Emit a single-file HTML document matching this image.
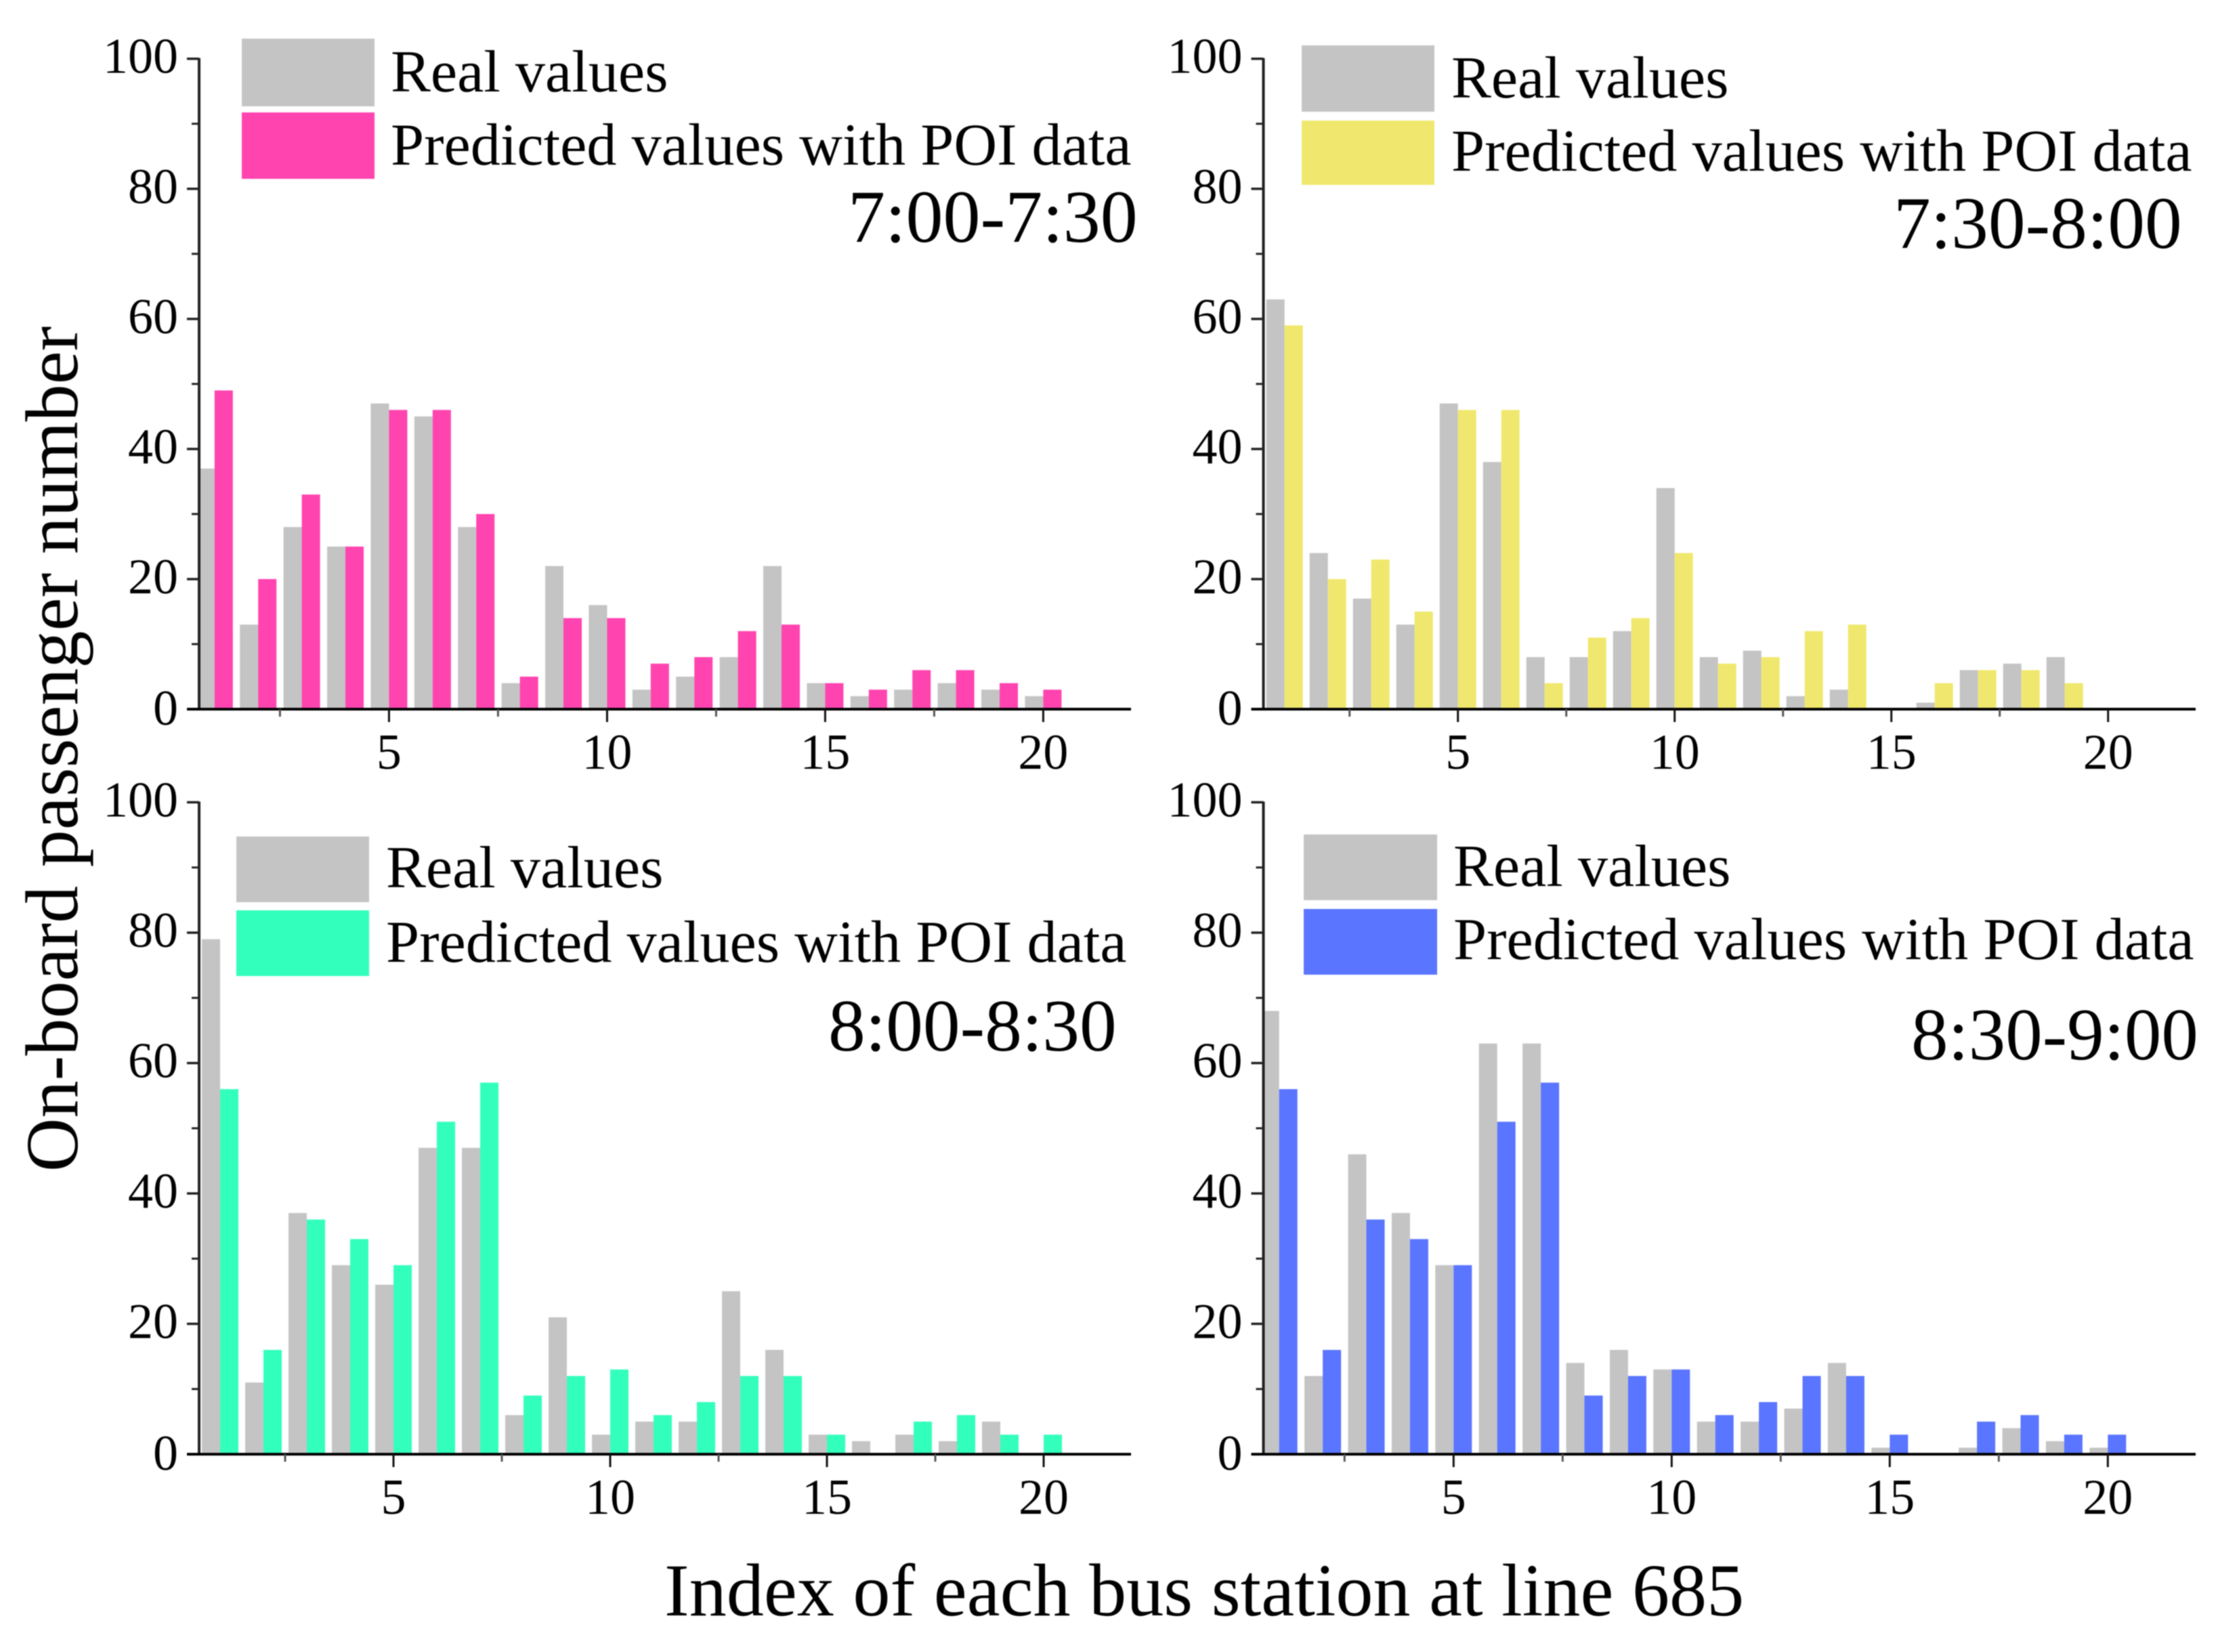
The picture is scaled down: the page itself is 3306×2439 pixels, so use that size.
<!DOCTYPE html>
<html lang="en">
<head>
<meta charset="utf-8">
<title>On-board passenger number by bus station</title>
<style>
  html, body { margin: 0; padding: 0; background: #ffffff; }
  svg { display: block; filter: blur(0.7px); }
  text { font-family: "Liberation Serif", "Times New Roman", serif; fill: #000000; }
</style>
</head>
<body>
<svg id="chart" xmlns="http://www.w3.org/2000/svg" width="3306" height="2439" viewBox="0 0 3306 2439">
  <rect x="0" y="0" width="3306" height="2439" fill="#ffffff"/>
  <g id="panels"></g>

  <g>
    <rect x="357" y="57" width="196" height="100" fill="#c4c4c4"/>
    <rect x="357" y="166" width="196" height="98" fill="#ff44b0"/>
    <text x="577" y="135" font-size="88.3">Real values</text>
    <text x="577" y="243" font-size="88.3">Predicted values with POI data</text>
    <text x="1252" y="357" font-size="110">7:00-7:30</text>
  </g>
  <g>
    <rect x="1922" y="67" width="196" height="98" fill="#c4c4c4"/>
    <rect x="1922" y="178" width="196" height="95" fill="#f0e86e"/>
    <text x="2143" y="144" font-size="88.3">Real values</text>
    <text x="2143" y="252" font-size="88.3">Predicted values with POI data</text>
    <text x="2796" y="366" font-size="109.5">7:30-8:00</text>
  </g>
  <g>
    <rect x="349" y="1235" width="196" height="97" fill="#c4c4c4"/>
    <rect x="349" y="1344" width="196" height="97" fill="#33ffbd"/>
    <text x="570" y="1310" font-size="88.3">Real values</text>
    <text x="570" y="1420" font-size="88.3">Predicted values with POI data</text>
    <text x="1223" y="1551" font-size="109.5">8:00-8:30</text>
  </g>
  <g>
    <rect x="1925" y="1232" width="197" height="97" fill="#c4c4c4"/>
    <rect x="1925" y="1342" width="197" height="97" fill="#5a75ff"/>
    <text x="2146" y="1308" font-size="88.3">Real values</text>
    <text x="2146" y="1416" font-size="88.3">Predicted values with POI data</text>
    <text x="2822" y="1564" font-size="109">8:30-9:00</text>
  </g>

  <text transform="translate(114,1730) rotate(-90)" font-size="110.2">On-board passenger number</text>
  <text x="981" y="2385" font-size="110.2">Index of each bus station at line 685</text>
</svg>
<script>
const real700 = [37,13,28,25,47,45,28,4,22,16,3,5,8,22,4,2,3,4,3,2];
const pred700 = [49,20,33,25,46,46,30,5,14,14,7,8,12,13,4,3,6,6,4,3];
const real730 = [63,24,17,13,47,38,8,8,12,34,8,9,2,3,0,1,6,7,8,0];
const pred730 = [59,20,23,15,46,46,4,11,14,24,7,8,12,13,0,4,6,6,4,0];
const real800 = [79,11,37,29,26,47,47,6,21,3,5,5,25,16,3,2,3,2,5,0];
const pred800 = [56,16,36,33,29,51,57,9,12,13,6,8,12,12,3,0,5,6,3,3];
const real830 = [68,12,46,37,29,63,63,14,16,13,5,5,7,14,1,0,1,4,2,1];
const pred830 = [56,16,36,33,29,51,57,9,12,13,6,8,12,12,3,0,5,6,3,3];
const yMajorTicks = [0,20,40,60,80,100];
const yMinorTicks = [10,30,50,70,90];
const xMajorTicks = [5,10,15,20];
const xMinorTicks = [2.5,7.5,12.5,17.5];

const NS = 'http://www.w3.org/2000/svg';
const root = document.getElementById('panels');

function mk(parent, tag, attrs) {
  const el = document.createElementNS(NS, tag);
  for (const k in attrs) el.setAttribute(k, attrs[k]);
  parent.appendChild(el);
  return el;
}

function drawPanel(idx, realVals, predVals, color, frame) {
  const xScale = v => frame.x5 + (v - 5) * frame.step;
  const yScale = v => frame.y0 - v * (frame.y0 - frame.y100) / 100;
  const barW = 27;

  const g = mk(root, 'g', {});
  
  

  realVals.forEach((v, i) => {
    if (v <= 0) return;
    const cx = xScale(i + 1);
    const left = Math.max(frame.left, cx - barW);
    const bar = mk(g, 'rect', { x: left, y: yScale(v), width: cx - left, height: yScale(0) - yScale(v), fill: '#c4c4c4' });
    
    
  });
  predVals.forEach((v, i) => {
    if (v <= 0) return;
    const cx = xScale(i + 1);
    const bar = mk(g, 'rect', { x: cx, y: yScale(v), width: barW, height: yScale(0) - yScale(v), fill: color });
    
    
  });

  const yAxis = mk(g, 'line', { x1: frame.left, x2: frame.left, y1: frame.y100 - 1, y2: frame.y0, stroke: '#222', 'stroke-width': 4 });
  
  
  const xAxis = mk(g, 'line', { x1: frame.left - 18, x2: frame.right, y1: frame.y0, y2: frame.y0, stroke: '#000', 'stroke-width': 4 });
  
  

  yMajorTicks.forEach(v => {
    const y = yScale(v);
    if (v > 0) {
      const tick = mk(g, 'line', { x1: frame.left - 18, x2: frame.left, y1: y, y2: y, stroke: '#222', 'stroke-width': 3.5 });
      
      
    }
    const label = mk(g, 'text', { x: frame.left - 31, y: y + (v === 0 ? 23 : 21), 'text-anchor': 'end', 'font-size': 74 });
    label.textContent = String(v);
    
    
  });
  yMinorTicks.forEach(v => {
    const y = yScale(v);
    const tick = mk(g, 'line', { x1: frame.left - 11, x2: frame.left, y1: y, y2: y, stroke: '#222', 'stroke-width': 3 });
    
    
  });
  xMajorTicks.forEach(v => {
    const x = xScale(v);
    const tick = mk(g, 'line', { x1: x, x2: x, y1: frame.y0, y2: frame.y0 + 19, stroke: '#111', 'stroke-width': 3 });
    
    
    const label = mk(g, 'text', { x: x, y: frame.y0 + 88, 'text-anchor': 'middle', 'font-size': 74 });
    label.textContent = String(v);
    
    
  });
  xMinorTicks.forEach(v => {
    const x = xScale(v);
    const tick = mk(g, 'line', { x1: x, x2: x, y1: frame.y0, y2: frame.y0 + 11, stroke: '#555', 'stroke-width': 3 });
    
    
  });
}

drawPanel(1, real700, pred700, '#ff44b0', { left: 294, right: 1670, y0: 1047, y100: 86.7, x5: 574.4, step: 64.4 });
drawPanel(2, real730, pred730, '#f0e86e', { left: 1865.5, right: 3242, y0: 1047, y100: 86.7, x5: 2152.7, step: 64.0 });
drawPanel(3, real800, pred800, '#33ffbd', { left: 294, right: 1670, y0: 2147, y100: 1184.5, x5: 581, step: 64.0 });
drawPanel(4, real830, pred830, '#5a75ff', { left: 1865.5, right: 3242, y0: 2147, y100: 1184.5, x5: 2146.3, step: 64.4 });
</script>
</body>
</html>
